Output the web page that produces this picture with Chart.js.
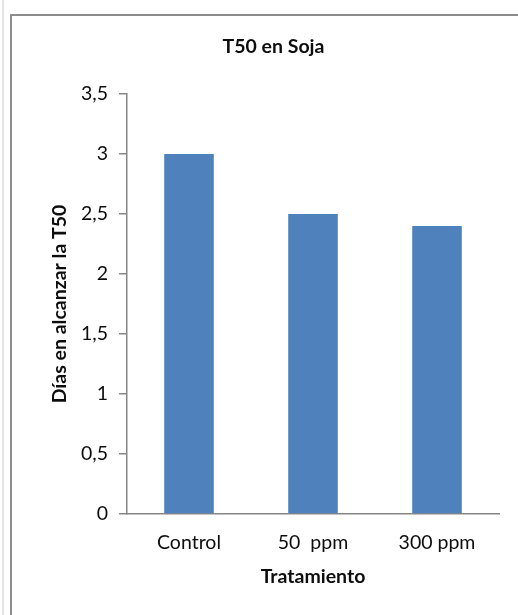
<!DOCTYPE html>
<html><head><meta charset="utf-8">
<script src="https://cdn.jsdelivr.net/npm/chart.js@4"></script>
<style>
html,body{margin:0;padding:0;background:#fff;overflow:hidden;width:518px;height:615px;}
#leftline{position:absolute;left:2px;top:0;width:2px;height:615px;background:#e4e4e4;}
#frame{position:absolute;left:10px;top:14px;width:600px;height:700px;border-left:2px solid #8c8c8c;border-top:2px solid #8c8c8c;}
#c{position:absolute;left:12px;top:16px;}
</style></head><body>
<div id="leftline"></div><div id="frame"></div>
<canvas id="c" width="518" height="599"></canvas>
<script>
const categories = ['Control', '50  ppm', '300 ppm'];
const t50Values = [3.0, 2.5, 2.4];
const yTickValues = [0, 0.5, 1, 1.5, 2, 2.5, 3, 3.5];
const chartTitle = 'T50 en Soja';
const xTitle = 'Tratamiento';
const yTitle = 'Días en alcanzar la T50';

const FONT = 'Lato, Calibri, Carlito, sans-serif';
const AXIS = '#868686';
const TXT = '#0d0d0d';

new Chart(document.getElementById('c'), {
  type: 'bar',
  data: {
    labels: categories,
    datasets: [{
      data: t50Values,
      backgroundColor: '#4F81BD',
      borderWidth: 0,
      categoryPercentage: 1,
      barPercentage: 0.4
    }]
  },
  options: {
    responsive: false,
    animation: false,
    layout: { padding: { left: 36, right: 31, top: 0, bottom: 26.3 } },
    plugins: {
      legend: { display: false },
      tooltip: { enabled: false },
      title: {
        display: true,
        text: chartTitle,
        color: TXT,
        font: { family: FONT, size: 19.5, weight: 'bold' },
        padding: { top: 19.3, bottom: 35.3 }
      }
    },
    scales: {
      x: {
        grid: { display: false, drawTicks: false },
        border: { display: true, color: AXIS, width: 1.5 },
        ticks: { color: TXT, font: { family: FONT, size: 19.5 }, padding: 17, maxRotation: 0 },
        title: { display: true, text: xTitle, color: TXT, font: { family: FONT, size: 19.5, weight: 'bold' }, padding: { top: 4, bottom: 0 } },
        afterFit(s) { s.height = 74.7; }
      },
      y: {
        min: 0, max: 3.5,
        afterBuildTicks(s) { s.ticks = yTickValues.map(v => ({ value: v })); },
        grid: { display: true, drawOnChartArea: false, drawTicks: true, tickLength: 8, color: AXIS, lineWidth: 1.5 },
        border: { display: true, color: AXIS, width: 1.5 },
        ticks: { color: TXT, font: { family: FONT, size: 19.5 }, padding: 11,
                 callback: v => String(v).replace('.', ',') },
        title: { display: true, text: yTitle, color: TXT, font: { family: FONT, size: 19.5, weight: 'bold' }, padding: { top: 0.3, bottom: 0 } },
        afterFit(s) { s.width = 79; }
      }
    }
  }
});
</script>
</body></html>
